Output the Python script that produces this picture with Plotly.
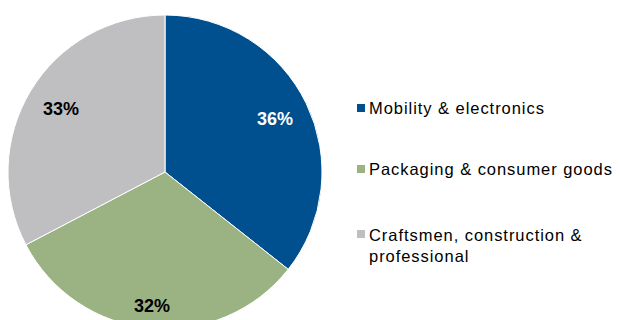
import math
import plotly.graph_objects as go

# Revenue split by end-market segment
segments = ["Mobility & electronics", "Packaging & consumer goods",
            "Craftsmen, construction & professional"]
legend_lines = [["Mobility & electronics"],
                ["Packaging & consumer goods"],
                ["Craftsmen, construction &", "professional"]]
shares = [36, 32, 33]
colors = ["#00508F", "#9BB383", "#BFBFC1"]
label_colors = ["#FFFFFF", "#000000", "#000000"]

FONT = "Arial, 'Liberation Sans', sans-serif"
W, H = 620, 330
cx, cy, R = 165, 172, 157            # pie centre and radius (px)
label_radius = [0.775, 0.86, 0.775]  # where each percentage sits, as a fraction of R

fig = go.Figure(go.Pie(
    labels=segments,
    values=shares,
    sort=False,
    direction="clockwise",
    rotation=0,
    marker=dict(colors=colors, line=dict(color="white", width=1)),
    textinfo="none",
    hoverinfo="label+value",
    showlegend=False,
    domain=dict(x=[(cx - R) / W, (cx + R) / W], y=[1 - (cy + R) / H, 1 - (cy - R) / H]),
))

annotations = []
shapes = []

# percentage labels at each slice's mid-angle
total = sum(shares)
cum = 0
for v, col, rf in zip(shares, label_colors, label_radius):
    mid = (cum + v / 2) / total * 2 * math.pi
    cum += v
    px = cx + rf * R * math.sin(mid)
    py = cy - rf * R * math.cos(mid)
    annotations.append(dict(
        x=px / W, y=1 - py / H, xref="paper", yref="paper",
        text=f"<b>{v}%</b>", showarrow=False, xanchor="center", yanchor="middle",
        font=dict(family=FONT, size=18, color=col),
    ))

# legend drawn by hand: small squares with slightly spaced labels
row_y = [108, 169, 234]
sq = 8
for lines, col, ry in zip(legend_lines, colors, row_y):
    shapes.append(dict(
        type="rect", xref="paper", yref="paper",
        x0=357 / W, x1=(357 + sq) / W,
        y0=1 - (ry + sq / 2) / H, y1=1 - (ry - sq / 2) / H,
        fillcolor=col, line=dict(width=0),
    ))
    txt = "<br>".join(f'<span style="letter-spacing:0.95px">{ln}</span>' for ln in lines)
    annotations.append(dict(
        x=367 / W, y=1 - (ry - 10.5) / H, xref="paper", yref="paper",
        text=txt, showarrow=False, xanchor="left", yanchor="top", align="left",
        font=dict(family=FONT, size=16.5, color="#000000"),
    ))

fig.update_layout(
    width=W, height=H,
    margin=dict(l=0, r=0, t=0, b=0),
    paper_bgcolor="white", plot_bgcolor="white",
    annotations=annotations, shapes=shapes,
)

fig.write_html(
    "out.html",
    post_script="document.documentElement.style.overflow='hidden';document.body.style.overflow='hidden';",
)
